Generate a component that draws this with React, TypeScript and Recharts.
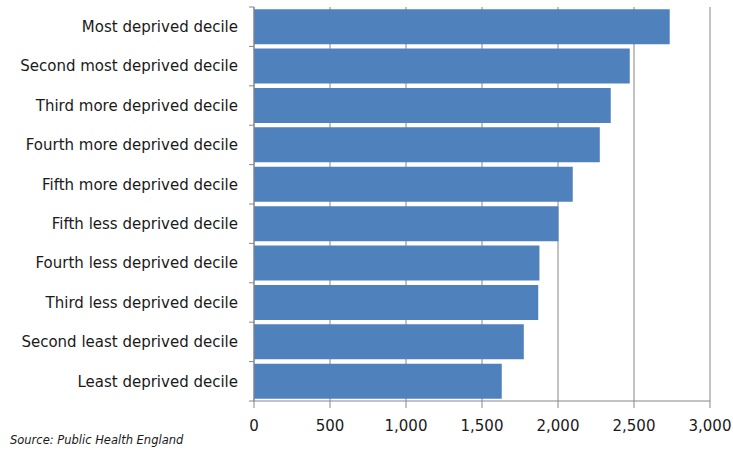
import { Bar, BarChart, CartesianGrid, XAxis, YAxis } from "recharts";

const deciles = [
  "Most deprived decile",
  "Second most deprived decile",
  "Third more deprived decile",
  "Fourth more deprived decile",
  "Fifth more deprived decile",
  "Fifth less deprived decile",
  "Fourth less deprived decile",
  "Third less deprived decile",
  "Second least deprived decile",
  "Least deprived decile",
];

const values = [2735, 2472, 2347, 2275, 2097, 2003, 1878, 1870, 1775, 1630];

const xTicks = [0, 500, 1000, 1500, 2000, 2500, 3000];

const data = deciles.map((name, i) => ({ name, value: values[i] }));

const FONT = "'DejaVu Sans', Verdana, sans-serif";
const AXIS = "#868686";
const BAND = 394 / deciles.length;

function DecileTick(props: any) {
  const { x, y, payload, index } = props;
  return (
    <g>
      <line x1={x + 11} x2={x + 16} y1={y - BAND / 2} y2={y - BAND / 2} stroke={AXIS} />
      {index === deciles.length - 1 && (
        <line x1={x + 11} x2={x + 16} y1={y + BAND / 2} y2={y + BAND / 2} stroke={AXIS} />
      )}
      <text x={x} y={y} dy="0.35em" textAnchor="end" fill="#1a1a1a" fontSize={15} fontFamily={FONT}>
        {payload.value}
      </text>
    </g>
  );
}

export default function App() {
  return (
    <div style={{ position: "absolute", left: 0, top: 0, width: 733, height: 453, background: "#fff" }}>
      <BarChart
        width={733}
        height={453}
        data={data}
        layout="vertical"
        margin={{ top: 7, right: 23, left: 0, bottom: 22 }}
        barCategoryGap="5.5%"
      >
        <CartesianGrid horizontal={false} stroke={AXIS} strokeWidth={1} />
        <XAxis
          type="number"
          domain={[0, 3000]}
          ticks={xTicks}
          height={30}
          stroke={AXIS}
          tickSize={7}
          tickMargin={12}
          tickFormatter={(v: number) => v.toLocaleString("en-GB")}
          tick={{ fill: "#1a1a1a", fontSize: 15, fontFamily: FONT }}
        />
        <YAxis
          type="category"
          dataKey="name"
          width={254}
          stroke={AXIS}
          tickLine={false}
          tickSize={0}
          tickMargin={16}
          interval={0}
          tick={<DecileTick />}
        />
        <Bar dataKey="value" fill="#4F81BD" isAnimationActive={false} />
      </BarChart>
      <div
        style={{
          position: "absolute",
          left: 10,
          top: 433,
          fontFamily: FONT,
          fontSize: 11.5,
          fontStyle: "italic",
          color: "#1a1a1a",
        }}
      >
        Source: Public Health England
      </div>
    </div>
  );
}
